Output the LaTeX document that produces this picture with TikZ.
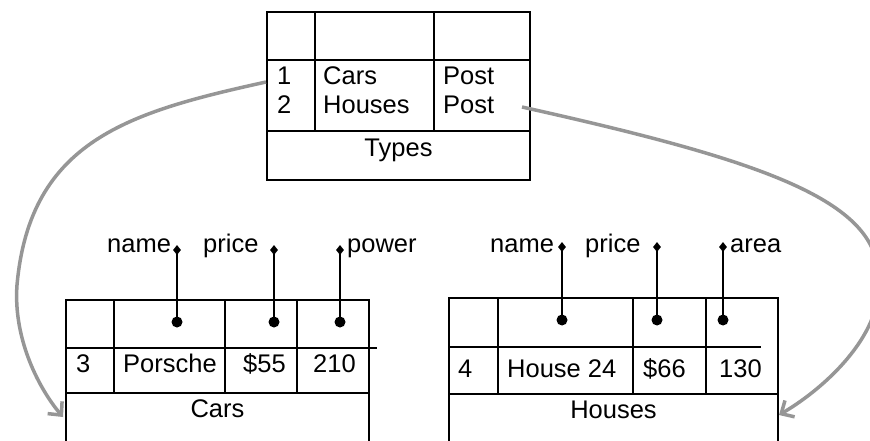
\documentclass[tikz,border=0pt]{standalone}
\usepackage{fontspec}
\setmainfont{Liberation Sans}
\usetikzlibrary{arrows.meta,shapes.geometric}
\definecolor{linkgray}{RGB}{150,150,150}
\tikzset{
  grid/.style={line width=2pt, line cap=rect},
  link/.style={draw=linkgray, line width=3.5pt,
               -{Straight Barb[length=10pt,width=19pt]}},
  txt/.style={anchor=base west, inner sep=0pt,
              font=\fontsize{25.5}{30}\selectfont},
  ctxt/.style={anchor=base, inner sep=0pt,
               font=\fontsize{25.5}{30}\selectfont},
  dotend/.style={circle, fill, inner sep=0pt, minimum size=11pt},
  diaend/.style={diamond, fill, inner sep=0pt, minimum width=8pt, minimum height=10pt},
  pin/.style={line width=2pt}
}
\begin{document}
\begin{tikzpicture}[x=1pt,y=-1pt]
\useasboundingbox (0,0) rectangle (870,441);
\clip (0,0) rectangle (870,441);

% ---- Types table ----
\node[draw, grid, minimum width=263pt, minimum height=168pt, inner sep=0pt] (types) at (398.5,96) {};
\draw[grid] (267,60) -- (530,60);
\draw[grid] (267,131) -- (530,131);
\draw[grid] (315,12) -- (315,131);
\draw[grid] (434,12) -- (434,131);
\node[txt] (t1) at (277,85) {1};
\node[txt] (t2) at (277,114) {2};
\node[txt] (tc) at (323,85) {Cars};
\node[txt] (th) at (323,114) {Houses};
\node[txt] (tp1) at (443,85) {Post};
\node[txt] (tp2) at (443,114) {Post};
\node[ctxt] (tname) at (398.5,157) {Types};
\coordinate (typesL) at (266,82);
\coordinate (typesR) at (522,107);

% ---- Cars table ----
\draw[grid] (66,441) -- (66,300) -- (369,300) -- (369,441);
\draw[grid] (66,348) -- (376,348);
\draw[grid] (66,393) -- (369,393);
\draw[grid] (114,300) -- (114,393);
\draw[grid] (225,300) -- (225,393);
\draw[grid] (297,300) -- (297,393);
\node[txt] (c3) at (76,372) {3};
\node[txt] (cp) at (123,372) {Porsche};
\node[txt] (c55) at (243,372) {\$55};
\node[txt] (c210) at (313,372) {210};
\node[ctxt] (cname) at (217.5,417) {Cars};
\coordinate (carsIn) at (63,417);

% Cars attribute pins
\node[txt] (cl1) at (107,252) {name};
\node[txt] (cl2) at (203,252) {price};
\node[txt] (cl3) at (347,252) {power};
\node[diaend] (cd1) at (177,250) {};
\node[diaend] (cd2) at (274,250) {};
\node[diaend] (cd3) at (340,250) {};
\node[dotend] (cc1) at (177,322) {};
\node[dotend] (cc2) at (274,322) {};
\node[dotend] (cc3) at (340,322) {};
\draw[pin] (cd1.center) -- (cc1.center);
\draw[pin] (cd2.center) -- (cc2.center);
\draw[pin] (cd3.center) -- (cc3.center);

% ---- Houses table ----
\draw[grid] (449,441) -- (449,298) -- (778,298) -- (778,441);
\draw[grid] (449,347) -- (760,347);
\draw[grid] (449,394) -- (778,394);
\draw[grid] (498,298) -- (498,394);
\draw[grid] (633,298) -- (633,394);
\draw[grid] (706,298) -- (706,394);
\node[txt] (h4) at (458,377) {4};
\node[txt] (hh) at (507,377) {House 24};
\node[txt] (h66) at (643,377) {\$66};
\node[txt] (h130) at (719,377) {130};
\node[ctxt] (hname) at (613.5,418) {Houses};
\coordinate (housesIn) at (779,415);

% Houses attribute pins
\node[txt] (hl1) at (490,252) {name};
\node[txt] (hl2) at (585,252) {price};
\node[txt] (hl3) at (730,252) {area};
\node[diaend] (hd1) at (562,247) {};
\node[diaend] (hd2) at (657,247) {};
\node[diaend] (hd3) at (723,247) {};
\node[dotend] (hc1) at (562,320) {};
\node[dotend] (hc2) at (657,320) {};
\node[dotend] (hc3) at (723,320) {};
\draw[pin] (hd1.center) -- (hc1.center);
\draw[pin] (hd2.center) -- (hc2.center);
\draw[pin] (hd3.center) -- (hc3.center);

% ---- links from Types to the tables ----
\draw[link] (typesL) .. controls (130,112) and (30,140) .. (17,285)
                     .. controls (13,340) and (40,390) .. (carsIn);
\draw[link] (typesR) .. controls (760,160) and (880,200) .. (878,278)
                     .. controls (885,330) and (830,385) .. (housesIn);
\end{tikzpicture}
\end{document}
